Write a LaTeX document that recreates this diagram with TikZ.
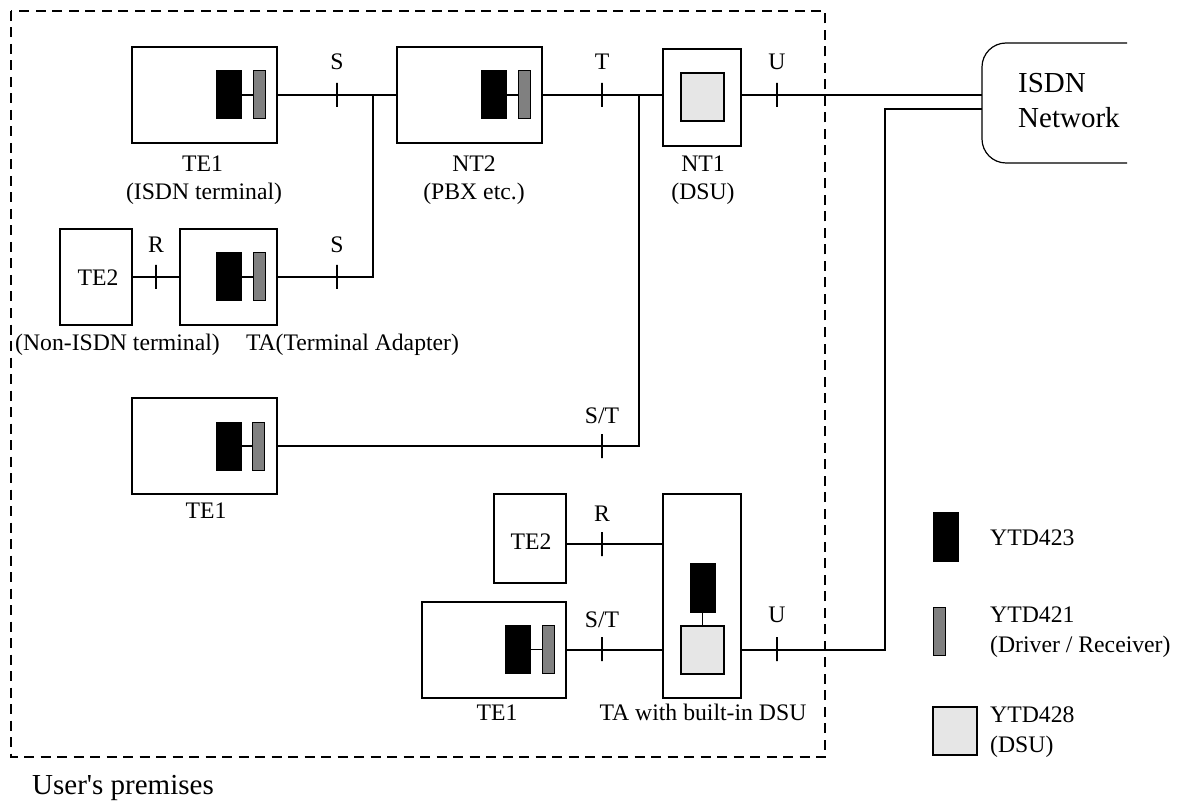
\documentclass[tikz,border=0pt]{standalone}
\usepackage{fontspec}
\setmainfont{Liberation Serif}
\newfontfamily\rawserif{Liberation Serif}
\definecolor{midgray}{HTML}{808080}
\definecolor{lightg}{HTML}{E6E6E6}
\begin{document}
\begin{tikzpicture}[x=1pt,y=-1pt,
  box/.style={draw, line width=1.2pt, inner sep=0pt},
  chipA/.style={draw, fill=black, line width=1pt, minimum width=25pt, minimum height=48pt, inner sep=0pt},
  chipB/.style={draw, fill=midgray, line width=1pt, minimum width=12pt, minimum height=48pt, inner sep=0pt},
  dsu/.style={draw, fill=lightg, line width=1.2pt, minimum width=43pt, minimum height=48pt, inner sep=0pt},
  tickmark/.style={draw, line width=1.2pt, inner sep=0pt, minimum width=0pt, minimum height=24pt},
  txt/.style={font=\fontsize{23.7}{28}\selectfont, inner sep=0pt, anchor=base},
  bigtxt/.style={font=\fontsize{29}{34}\selectfont, inner sep=0pt, anchor=base west},
  wire/.style={line width=1.2pt},
  premises/.style={draw, line width=1.2pt, dash pattern=on 10pt off 6.5pt}
]
\useasboundingbox (0,0) rectangle (1183,802);

% user's premises frame
\draw[premises] (11,11) rectangle (825,757);
\node[bigtxt] (prem) at (32,794) {\rawserif User's premises};

% ISDN network
\draw[wire, rounded corners=24pt] (1127,43) -- (982,43) -- (982,163) -- (1127,163);
\node[bigtxt] (isdn) at (1018,93) {ISDN};
\node[bigtxt] (netw) at (1018,128) {Network};
\coordinate (net1) at (982,95);
\coordinate (net2) at (982,109);

% top row
\node[box, minimum width=145pt, minimum height=96pt] (te1a) at (204.5,95) {};
\node[chipA] (te1aA) at (228.5,95) {};
\node[chipB] (te1aB) at (259,95) {};
\node[box, minimum width=145pt, minimum height=96pt] (nt2) at (469.5,95) {};
\node[chipA] (nt2A) at (493.5,95) {};
\node[chipB] (nt2B) at (524,95) {};
\node[box, minimum width=78pt, minimum height=97pt] (nt1) at (702,97.5) {};
\node[dsu] (nt1D) at (702.5,97) {};

\node[txt] (lte1a) at (202.5,172) {TE1};
\node[txt] (lte1a2) at (204,200) {(ISDN terminal)};
\node[txt] (lnt2) at (474,172) {NT2};
\node[txt] (lnt22) at (474,200) {(PBX etc.)};
\node[txt] (lnt1) at (703,172) {NT1};
\node[txt] (lnt12) at (703,200) {(DSU)};

% second row
\node[box, minimum width=72pt, minimum height=96pt] (te2a) at (96,277) {};
\node[txt] (lte2a) at (98,286) {TE2};
\node[box, minimum width=97pt, minimum height=96pt] (ta) at (228.5,277) {};
\node[chipA] (taA) at (228.5,277) {};
\node[chipB] (taB) at (259,277) {};
\node[txt] (lnon) at (117.5,350) {(Non-ISDN terminal)};
\node[txt] (lta) at (352.5,350) {TA(Terminal Adapter)};

% third row
\node[box, minimum width=145pt, minimum height=96pt] (te1b) at (204.5,446) {};
\node[chipA] (te1bA) at (228.5,446) {};
\node[chipB] (te1bB) at (258.5,446) {};
\node[txt] (lte1b) at (206,518) {TE1};

% bottom group
\node[box, minimum width=72pt, minimum height=89pt] (te2b) at (530,538.5) {};
\node[txt] (lte2b) at (531,549) {TE2};
\node[box, minimum width=144pt, minimum height=96pt] (te1c) at (494,650) {};
\node[chipA] (te1cA) at (517.5,649.5) {};
\node[chipB] (te1cB) at (548,649.5) {};
\node[txt] (lte1c) at (497,720) {TE1};
\node[box, minimum width=78pt, minimum height=204pt] (tad) at (702,596) {};
\node[chipA, minimum height=49pt] (tadA) at (702.5,587.5) {};
\node[dsu] (tadD) at (702.5,650) {};
\node[txt] (ltad) at (703,720) {TA with built-in DSU};

% internal links
\foreach \a/\b in {te1aA/te1aB, nt2A/nt2B, taA/taB, te1bA/te1bB, te1cA/te1cB}
  \draw[wire] (\a.east) -- (\b.west);
\draw[wire] (tadA.south) -- (tadD.north);

% connectors
\coordinate (j1) at (373,95);
\coordinate (j2) at (639,95);
\coordinate (k) at (885,109);
\draw[wire] (te1a.east) -- (nt2.west);
\draw[wire] (j1) |- (ta.east);
\draw[wire] (te2a.east) -- (ta.west);
\draw[wire] (nt2.east) -- (nt2.east -| nt1.west);
\draw[wire] (j2) |- (te1b.east);
\draw[wire] (nt1.east |- net1) -- (net1);
\draw[wire] ([yshift=-5.5pt]te2b.east) coordinate (r2) -- (r2 -| tad.west);
\draw[wire] (te1c.east) -- (te1c.east -| tad.west);
\draw[wire] (tadD -| tad.east) -| (k) -- (net2);

% reference point ticks and labels
\node[tickmark] (tS1) at (337,95) {};
\node[txt] (lS1) at (337,70) {S};
\node[tickmark] (tT) at (602,95) {};
\node[txt] (lT) at (602,70) {T};
\node[tickmark] (tU1) at (777,95) {};
\node[txt] (lU1) at (777,70) {U};
\node[tickmark] (tR1) at (156,277) {};
\node[txt] (lR1) at (156,253) {R};
\node[tickmark] (tS2) at (337,277) {};
\node[txt] (lS2) at (337,253) {S};
\node[tickmark] (tST1) at (602,446) {};
\node[txt] (lST1) at (602,423) {S/T};
\node[tickmark] (tR2) at (602,544) {};
\node[txt] (lR2) at (602,521) {R};
\node[tickmark] (tST2) at (602,649) {};
\node[txt] (lST2) at (602,627) {S/T};
\node[tickmark] (tU2) at (777,649) {};
\node[txt] (lU2) at (777,622) {U};

% legend
\node[chipA, minimum height=49pt] (legA) at (945.5,536.5) {};
\node[txt, anchor=base west] (lgA) at (990,545) {YTD423};
\node[chipB] (legB) at (939.5,631) {};
\node[txt, anchor=base west] (lgB) at (990,622) {YTD421};
\node[txt, anchor=base west] (lgB2) at (990,652) {(Driver / Receiver)};
\node[dsu, minimum width=44pt] (legD) at (955,731) {};
\node[txt, anchor=base west] (lgD) at (990,722) {YTD428};
\node[txt, anchor=base west] (lgD2) at (990,752) {(DSU)};
\end{tikzpicture}
\end{document}
